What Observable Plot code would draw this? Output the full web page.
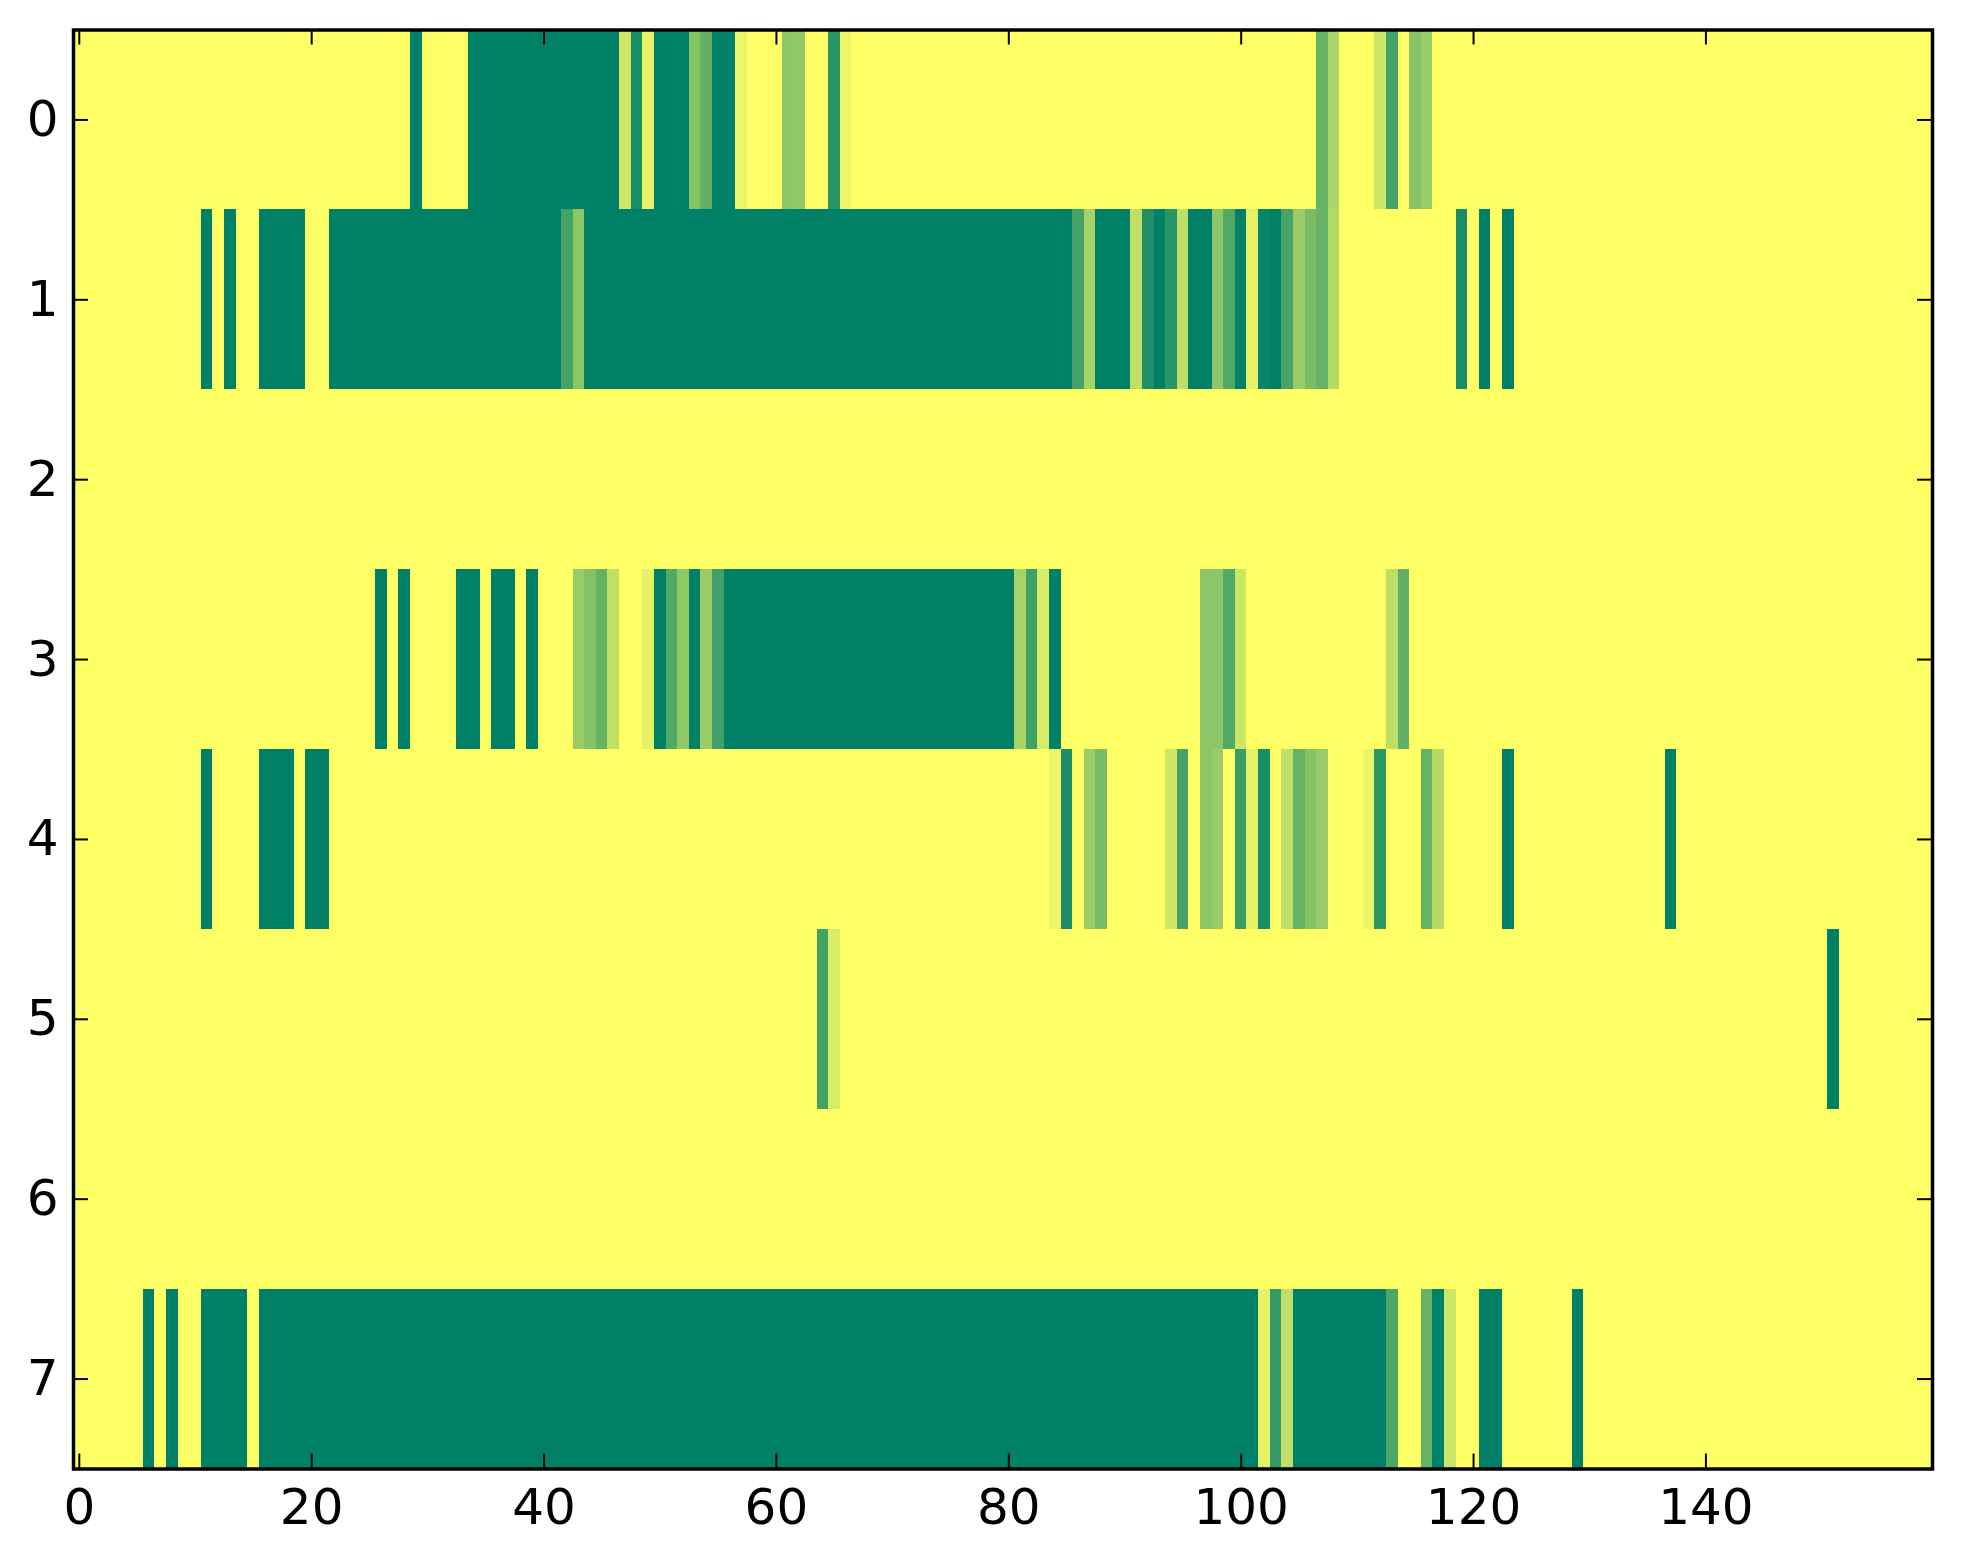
<!DOCTYPE html>
<html>
<head>
<meta charset="utf-8">
<script src="https://cdn.jsdelivr.net/npm/d3@7"></script>
<script src="https://cdn.jsdelivr.net/npm/@observablehq/plot@0.6"></script>
<style>
  html, body { margin: 0; padding: 0; background: #ffffff; overflow: hidden; }
  svg { display: block; }
</style>
</head>
<body>
<div id="chart"></div>
<script>
// ---- data: one array of 160 cell values per row (0 = yellow, 1 = dark green) ----
const row0 = [
  0,0,0,0,0,0,0,0,0,0, 0,0,0,0,0,0,0,0,0,0,
  0,0,0,0,0,0,0,0,0,1, 0,0,0,0,1,1,1,1,1,1,
  1,1,1,1,1,1,1,.18,.9,.1, 1,1,1,.48,.62,1,1,.07,0,0,
  0,.45,.43,0,0,.84,.07,0,0,0, 0,0,0,0,0,0,0,0,0,0,
  0,0,0,0,0,0,0,0,0,0, 0,0,0,0,0,0,0,0,0,0,
  0,0,0,0,0,0,0,.6,.33,0, 0,0,.2,.73,0,.47,.4,0,0,0,
  0,0,0,0,0,0,0,0,0,0, 0,0,0,0,0,0,0,0,0,0,
  0,0,0,0,0,0,0,0,0,0, 0,0,0,0,0,0,0,0,0,0
];
const row1 = [
  0,0,0,0,0,0,0,0,0,0, 0,1,0,1,0,0,1,1,1,1,
  0,0,1,1,1,1,1,1,1,1, 1,1,1,1,1,1,1,1,1,1,
  1,1,.73,.45,1,1,1,1,1,1, 1,1,1,1,1,1,1,1,1,1,
  1,1,1,1,1,1,1,1,1,1, 1,1,1,1,1,1,1,1,1,1,
  1,1,1,1,1,1,.73,.35,1,1, 1,.25,.88,1,.84,.25,1,1,.45,.68,
  1,.1,.97,1,.72,.4,.53,.6,.3,0, 0,0,0,0,0,0,0,0,0,.9,
  0,1,0,1,0,0,0,0,0,0, 0,0,0,0,0,0,0,0,0,0,
  0,0,0,0,0,0,0,0,0,0, 0,0,0,0,0,0,0,0,0,0
];
const row2 = [
  0,0,0,0,0,0,0,0,0,0, 0,0,0,0,0,0,0,0,0,0,
  0,0,0,0,0,0,0,0,0,0, 0,0,0,0,0,0,0,0,0,0,
  0,0,0,0,0,0,0,0,0,0, 0,0,0,0,0,0,0,0,0,0,
  0,0,0,0,0,0,0,0,0,0, 0,0,0,0,0,0,0,0,0,0,
  0,0,0,0,0,0,0,0,0,0, 0,0,0,0,0,0,0,0,0,0,
  0,0,0,0,0,0,0,0,0,0, 0,0,0,0,0,0,0,0,0,0,
  0,0,0,0,0,0,0,0,0,0, 0,0,0,0,0,0,0,0,0,0,
  0,0,0,0,0,0,0,0,0,0, 0,0,0,0,0,0,0,0,0,0
];
const row3 = [
  0,0,0,0,0,0,0,0,0,0, 0,0,0,0,0,0,0,0,0,0,
  0,0,0,0,0,0,1,0,1,0, 0,0,0,1,1,0,1,1,0,1,
  0,0,0,.4,.48,.6,.25,0,0,.1, 1,.68,.43,1,.4,.75,1,1,1,1,
  1,1,1,1,1,1,1,1,1,1, 1,1,1,1,1,1,1,1,1,1,
  1,.35,.75,.15,1,0,0,0,0,0, 0,0,0,0,0,0,0,.45,.45,.68,
  .2,0,0,0,0,0,0,0,0,0, 0,0,0,.26,.62,0,0,0,0,0,
  0,0,0,0,0,0,0,0,0,0, 0,0,0,0,0,0,0,0,0,0,
  0,0,0,0,0,0,0,0,0,0, 0,0,0,0,0,0,0,0,0,0
];
const row4 = [
  0,0,0,0,0,0,0,0,0,0, 0,1,0,0,0,0,1,1,1,0,
  1,1,0,0,0,0,0,0,0,0, 0,0,0,0,0,0,0,0,0,0,
  0,0,0,0,0,0,0,0,0,0, 0,0,0,0,0,0,0,0,0,0,
  0,0,0,0,0,0,0,0,0,0, 0,0,0,0,0,0,0,0,0,0,
  0,0,0,0,.07,.9,0,.4,.53,0, 0,0,0,0,.2,.72,0,.45,.4,0,
  .77,.1,.9,0,.25,.6,.48,.4,0,0, 0,.07,.82,0,0,0,.6,.29,0,0,
  0,0,0,1,0,0,0,0,0,0, 0,0,0,0,0,0,0,1,0,0,
  0,0,0,0,0,0,0,0,0,0, 0,0,0,0,0,0,0,0,0,0
];
const row5 = [
  0,0,0,0,0,0,0,0,0,0, 0,0,0,0,0,0,0,0,0,0,
  0,0,0,0,0,0,0,0,0,0, 0,0,0,0,0,0,0,0,0,0,
  0,0,0,0,0,0,0,0,0,0, 0,0,0,0,0,0,0,0,0,0,
  0,0,0,0,.73,.15,0,0,0,0, 0,0,0,0,0,0,0,0,0,0,
  0,0,0,0,0,0,0,0,0,0, 0,0,0,0,0,0,0,0,0,0,
  0,0,0,0,0,0,0,0,0,0, 0,0,0,0,0,0,0,0,0,0,
  0,0,0,0,0,0,0,0,0,0, 0,0,0,0,0,0,0,0,0,0,
  0,0,0,0,0,0,0,0,0,0, 0,1,0,0,0,0,0,0,0,0
];
const row6 = [
  0,0,0,0,0,0,0,0,0,0, 0,0,0,0,0,0,0,0,0,0,
  0,0,0,0,0,0,0,0,0,0, 0,0,0,0,0,0,0,0,0,0,
  0,0,0,0,0,0,0,0,0,0, 0,0,0,0,0,0,0,0,0,0,
  0,0,0,0,0,0,0,0,0,0, 0,0,0,0,0,0,0,0,0,0,
  0,0,0,0,0,0,0,0,0,0, 0,0,0,0,0,0,0,0,0,0,
  0,0,0,0,0,0,0,0,0,0, 0,0,0,0,0,0,0,0,0,0,
  0,0,0,0,0,0,0,0,0,0, 0,0,0,0,0,0,0,0,0,0,
  0,0,0,0,0,0,0,0,0,0, 0,0,0,0,0,0,0,0,0,0
];
const row7 = [
  0,0,0,0,0,0,1,0,1,0, 0,1,1,1,1,0,1,1,1,1,
  1,1,1,1,1,1,1,1,1,1, 1,1,1,1,1,1,1,1,1,1,
  1,1,1,1,1,1,1,1,1,1, 1,1,1,1,1,1,1,1,1,1,
  1,1,1,1,1,1,1,1,1,1, 1,1,1,1,1,1,1,1,1,1,
  1,1,1,1,1,1,1,1,1,1, 1,1,1,1,1,1,1,1,1,1,
  1,1,.1,.8,.25,1,1,1,1,1, 1,1,1,.7,0,0,.6,1,.2,0,
  0,1,1,0,0,0,0,0,0,1, 0,0,0,0,0,0,0,0,0,0,
  0,0,0,0,0,0,0,0,0,0, 0,0,0,0,0,0,0,0,0,0
];
const rowIndex = [0, 1, 2, 3, 4, 5, 6, 7];
const xTicks = [0, 20, 40, 60, 80, 100, 120, 140];
const yTicks = [0, 1, 2, 3, 4, 5, 6, 7];
const colorRange = ["#ffff66", "#008066"]; // summer_r: low = yellow, high = green

// ---- build the cell table from the arrays ----
const rows = [row0, row1, row2, row3, row4, row5, row6, row7];
const cells = rows.flatMap((vals, r) =>
  vals.map((v, c) => ({row: rowIndex[r], col: c, value: v}))
);
const nCols = row0.length;

// ---- layout ----
const W = 1963, H = 1564;
const mL = 73, mR = 31, mT = 29.5, mB = 95.5;
const plotW = W - mL - mR, plotH = H - mT - mB;
const tickLen = 15;

const chart = Plot.plot({
  width: W,
  height: H,
  marginLeft: mL,
  marginRight: mR,
  marginTop: mT,
  marginBottom: mB,
  style: {fontFamily: "'DejaVu Sans', sans-serif", fontSize: "50px", color: "black", background: "white"},
  x: {domain: [-0.5, nCols - 0.5]},
  y: {domain: [-0.5, rows.length - 0.5], reverse: true},
  color: {type: "linear", domain: [0, 1], range: colorRange, interpolate: "rgb"},
  marks: [
    Plot.rect(cells, {
      x1: d => d.col - 0.5, x2: d => d.col + 0.5,
      y1: d => d.row - 0.5, y2: d => d.row + 0.5,
      fill: "value", shapeRendering: "crispEdges"
    }),
    // inward ticks on all four sides
    Plot.ruleX(xTicks, {x: d => d, insetTop: plotH - tickLen, stroke: "black", strokeWidth: 2}),
    Plot.ruleX(xTicks, {x: d => d, insetBottom: plotH - tickLen, stroke: "black", strokeWidth: 2}),
    Plot.ruleY(yTicks, {y: d => d, insetRight: plotW - tickLen, stroke: "black", strokeWidth: 2}),
    Plot.ruleY(yTicks, {y: d => d, insetLeft: plotW - tickLen, stroke: "black", strokeWidth: 2}),
    Plot.axisX(xTicks, {anchor: "bottom", tickSize: 0, tickPadding: 19, fontSize: 50, label: null, tickFormat: d => String(d)}),
    Plot.axisY(yTicks, {anchor: "left", tickSize: 0, tickPadding: 15, fontSize: 50, label: null, tickFormat: d => String(d)}),
    Plot.frame({stroke: "black", strokeWidth: 3.5})
  ]
});
document.getElementById("chart").appendChild(chart);
</script>
</body>
</html>
